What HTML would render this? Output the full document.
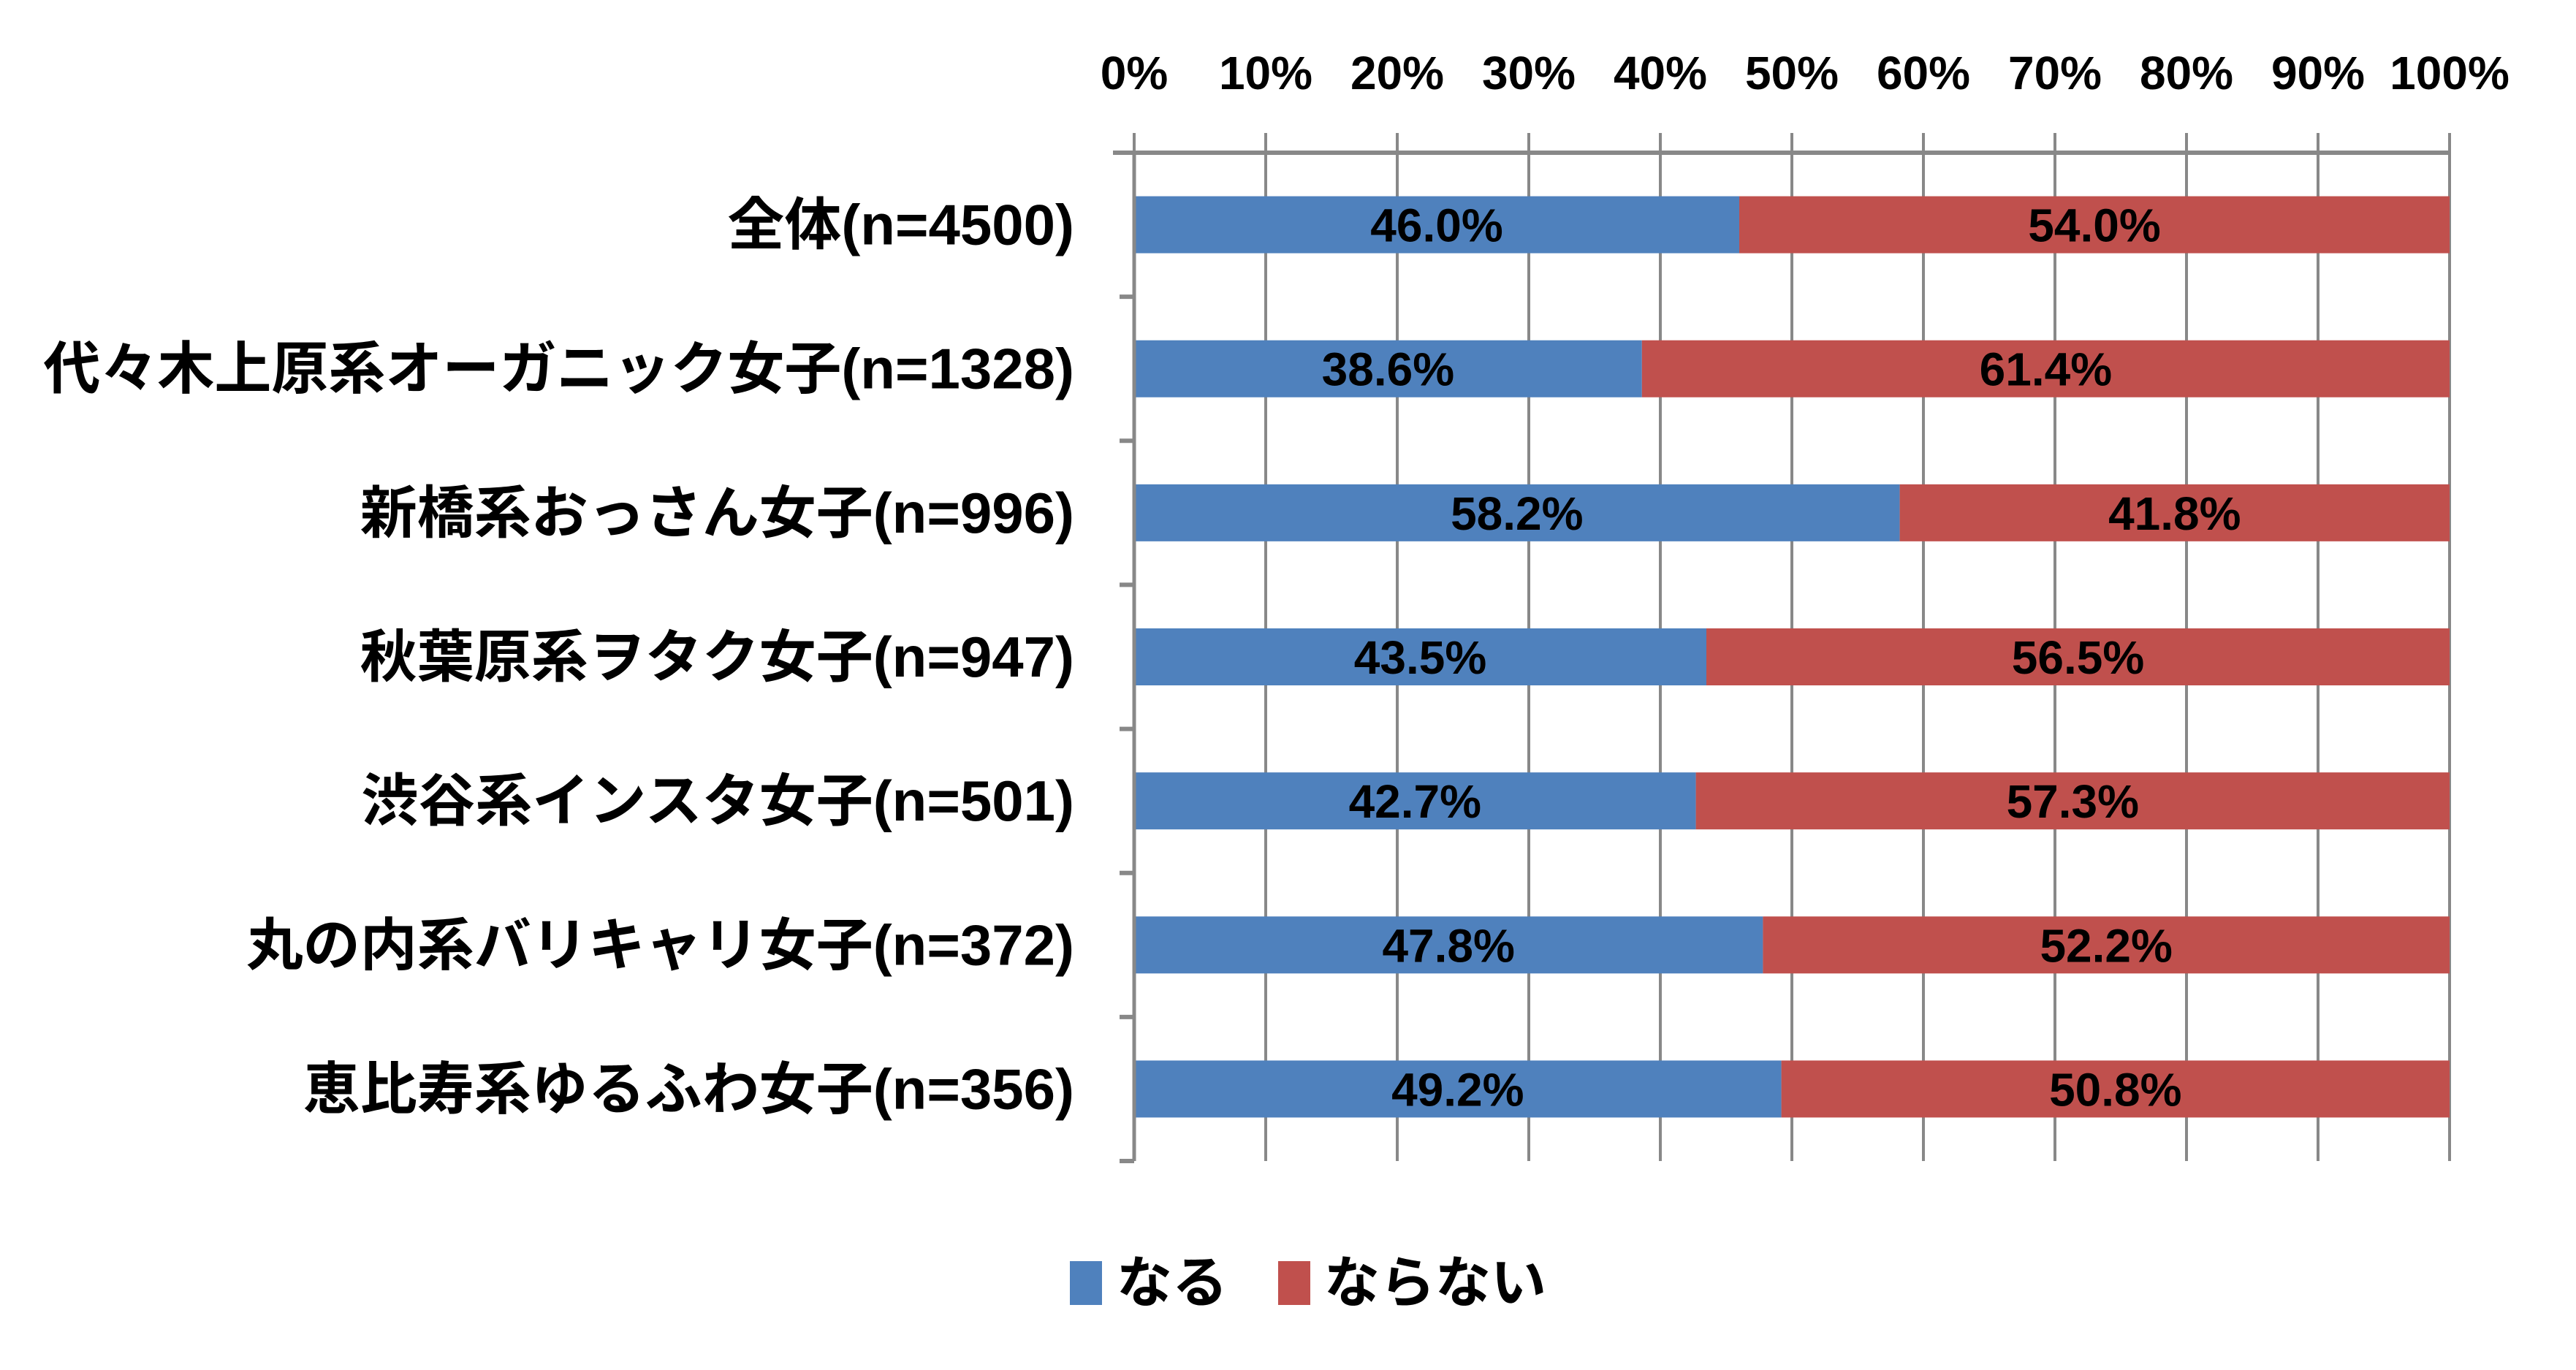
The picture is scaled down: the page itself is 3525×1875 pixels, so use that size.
<!DOCTYPE html>
<html><head><meta charset="utf-8">
<style>
html,body{margin:0;padding:0;background:#fff;}
svg{display:block;}
text{font-family:"Liberation Sans","Noto Sans CJK JP",sans-serif;font-weight:bold;fill:#000;}
</style></head>
<body>
<svg id="chart" width="3525" height="1875" viewBox="0 0 3525 1875" xmlns="http://www.w3.org/2000/svg">
<g id="grid"></g>
<g id="bars"></g>
<g id="axes"></g>
<g id="labels"></g>
<g id="legend">
  <rect x="1464" y="1726" width="44" height="60" fill="#4F81BD"/>
  <text x="1528" y="1782" font-size="76">なる</text>
  <rect x="1749" y="1726" width="44" height="60" fill="#C0504D"/>
  <text x="1812" y="1782" font-size="76">ならない</text>
</g>
</svg>
<script>
const categories = ["全体(n=4500)","代々木上原系オーガニック女子(n=1328)","新橋系おっさん女子(n=996)","秋葉原系ヲタク女子(n=947)","渋谷系インスタ女子(n=501)","丸の内系バリキャリ女子(n=372)","恵比寿系ゆるふわ女子(n=356)"];
const naru = [46.0,38.6,58.2,43.5,42.7,47.8,49.2];
const naranai = [54.0,61.4,41.8,56.5,57.3,52.2,50.8];
const tickValues = [0,10,20,30,40,50,60,70,80,90,100];
const tickLabels = ["0%","10%","20%","30%","40%","50%","60%","70%","80%","90%","100%"];

const NS="http://www.w3.org/2000/svg";
const X0=1552, X1=3352, Y0=209, Y1=1589;
const band=(Y1-Y0)/categories.length, barH=78;
const xs=v=>X0+(v/100)*(X1-X0);
const yc=i=>Y0+band*(i+0.5);
function mk(tag,attrs,parent){const e=document.createElementNS(NS,tag);for(const k in attrs)e.setAttribute(k,attrs[k]);parent.appendChild(e);return e;}
const gridG=document.getElementById('grid'),barsG=document.getElementById('bars'),axesG=document.getElementById('axes'),labelsG=document.getElementById('labels');

tickValues.forEach((v,i)=>{
  const l=mk('line',{x1:xs(v),x2:xs(v),y1:182,y2:Y1,stroke:'#888',"stroke-width":4},gridG);
  
  
  const t=mk('text',{x:xs(v),y:122,"font-size":64,"text-anchor":"middle"},labelsG);
  t.textContent=tickLabels[i];
  
  
});
const topAxisLine=mk('line',{x1:1523,x2:X1,y1:Y0,y2:Y0,stroke:'#888',"stroke-width":6},axesG);


const leftAxisLine=mk('line',{x1:X0,x2:X0,y1:Y0,y2:Y1,stroke:'#888',"stroke-width":5},axesG);


for(let i=0;i<=categories.length;i++){
  const tk=mk('line',{x1:1532,x2:X0,y1:Y0+band*i,y2:Y0+band*i,stroke:'#888',"stroke-width":6},axesG);
  
  
}
categories.forEach((c,i)=>{
  const y=yc(i);
  const b1=mk('rect',{x:xs(0),y:y-barH/2,width:xs(naru[i])-xs(0),height:barH,fill:'#4F81BD'},barsG);
  
  
  const b2=mk('rect',{x:xs(naru[i]),y:y-barH/2,width:xs(naru[i]+naranai[i])-xs(naru[i]),height:barH,fill:'#C0504D'},barsG);
  
  
  const t1=mk('text',{x:(xs(0)+xs(naru[i]))/2,y:y+23,"font-size":64,"text-anchor":"middle"},labelsG);
  t1.textContent=naru[i].toFixed(1)+"%";
  
  
  const t2=mk('text',{x:(xs(naru[i])+xs(naru[i]+naranai[i]))/2,y:y+23,"font-size":64,"text-anchor":"middle"},labelsG);
  t2.textContent=naranai[i].toFixed(1)+"%";
  
  
  const cl=mk('text',{x:1470,y:y+27,"font-size":78,"text-anchor":"end"},labelsG);
  cl.textContent=c;
  
  
});
</script>
</body></html>
